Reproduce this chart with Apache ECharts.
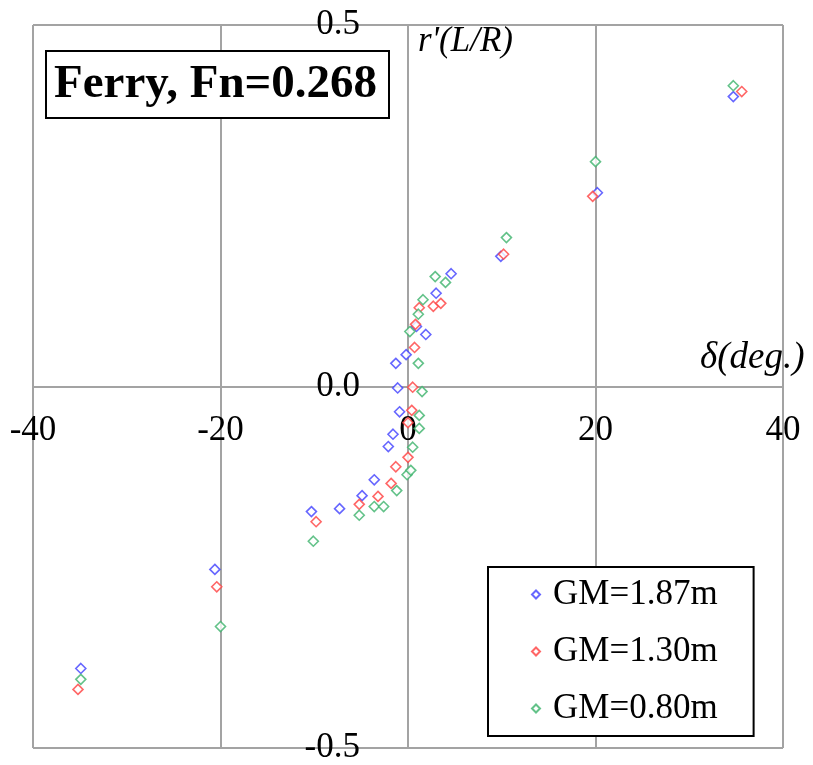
<!DOCTYPE html>
<html>
<head>
<meta charset="utf-8">
<title>Ferry, Fn=0.268</title>
<script src="https://cdn.jsdelivr.net/npm/echarts@6/dist/echarts.min.js"></script>
<style>
    html, body {
        margin: 0;
        padding: 0;
        background: #fff;
    }
    #chart {
        width: 813px;
        height: 765px;
    }
</style>
</head>
<body>
<div id="chart"></div>
<script>
// rudder angle δ (deg.) vs non-dimensional yaw rate r'(L/R), one list per GM
const gm187 = [
    [-34.9, -0.390], [-20.6, -0.253], [-10.3, -0.173], [-7.3, -0.169],
    [-4.9, -0.151], [-3.6, -0.129], [-2.1, -0.083], [-1.6, -0.066],
    [-0.9, -0.035], [-1.1, -0.002], [-1.3, 0.032], [-0.2, 0.044],
    [1.9, 0.072], [0.9, 0.083], [3.0, 0.129], [4.6, 0.156],
    [9.9, 0.180], [20.2, 0.268], [34.7, 0.401],
]
const gm130 = [
    [-35.2, -0.419], [-20.4, -0.277], [-9.8, -0.187], [-5.2, -0.163],
    [-3.2, -0.152], [-1.8, -0.134], [-1.3, -0.111], [0.0, -0.098],
    [0.0, -0.050], [0.4, -0.033], [0.5, -0.001], [0.7, 0.054],
    [0.8, 0.086], [1.2, 0.109], [2.7, 0.111], [3.5, 0.115],
    [10.2, 0.183], [19.7, 0.263], [35.6, 0.408],
]
const gm080 = [
    [-34.9, -0.405], [-20.0, -0.332], [-10.1, -0.214], [-5.2, -0.178],
    [-3.6, -0.166], [-2.6, -0.166], [-1.2, -0.144], [-0.1, -0.122],
    [0.3, -0.116], [0.5, -0.084], [1.2, -0.058], [1.2, -0.040],
    [1.5, -0.007], [1.1, 0.032], [0.2, 0.076], [1.1, 0.100],
    [1.6, 0.120], [2.9, 0.152], [4.0, 0.144], [10.5, 0.206],
    [20.0, 0.311], [34.7, 0.416],
]
const seriesNames = ['GM=1.87m', 'GM=1.30m', 'GM=0.80m']
const titleText = 'Ferry, Fn=0.268'
const xName = 'δ(deg.)'
const yName = "r'(L/R)"

const font = '"Liberation Serif", "DejaVu Serif", serif'
const colors = {
    grid: '#a3a3a3',
    text: '#000',
    blue: '#4040ff',
    red: '#ff4040',
    green: '#3cb36c',
}

// grid box; the axes cross in its middle (x = 0, y = 0)
const gridBox = { left: 33, right: 30, top: 25, bottom: 17 }
const plotW = 813 - gridBox.left - gridBox.right
const plotH = 765 - gridBox.top - gridBox.bottom

function scatterSeries(name, data, color) {
    return {
        name,
        type: 'scatter',
        data,
        symbol: 'diamond',
        symbolSize: 10,
        itemStyle: { color: '#fff', borderColor: color, borderWidth: 1.6 },
    }
}

function buildOption() {
    const c = colors
    return {
        animation: false,
        backgroundColor: '#fff',
        textStyle: { fontFamily: font },
        grid: { ...gridBox, outerBoundsMode: 'none' },
        title: {
            text: titleText,
            left: 46,
            top: 52,
            padding: [10, 12, 10, 8],
            borderWidth: 2,
            borderColor: '#000',
            backgroundColor: '#fff',
            textStyle: { fontFamily: font, fontSize: 47, fontWeight: 'bold', color: c.text, lineHeight: 45 },
        },
        legend: {
            orient: 'vertical',
            left: 488,
            top: 567,
            padding: [10, 36, 10, 43],
            itemGap: 22,
            itemWidth: 8,
            itemHeight: 8,
            borderWidth: 2,
            borderColor: '#000',
            backgroundColor: '#fff',
            data: seriesNames,
            textStyle: { fontFamily: font, fontSize: 35, color: c.text, lineHeight: 35, padding: [0, 0, 0, 8] },
        },
        graphic: [
            {
                type: 'text',
                left: 418,
                top: 24,
                style: { text: yName, font: 'italic 35px ' + font, fill: c.text },
            },
            {
                type: 'text',
                left: 700,
                top: 340,
                style: { text: xName, font: 'italic 37px ' + font, fill: c.text },
            },
        ],
        xAxis: {
            type: 'value',
            min: -40,
            max: 40,
            interval: 20,
            position: 'bottom',
            offset: -plotH / 2,
            axisLine: { onZero: false, lineStyle: { color: c.grid, width: 2 } },
            axisTick: { show: false },
            axisLabel: { color: c.text, fontSize: 35, fontFamily: font, margin: 27 },
            splitLine: { show: true, lineStyle: { color: c.grid, width: 2 } },
        },
        yAxis: {
            type: 'value',
            min: -0.5,
            max: 0.5,
            interval: 0.5,
            position: 'left',
            offset: -plotW / 2,
            axisLine: { onZero: false, lineStyle: { color: c.grid, width: 2 } },
            axisTick: { show: false },
            axisLabel: {
                color: c.text,
                fontSize: 35,
                fontFamily: font,
                margin: 48,
                formatter: (v) => v.toFixed(1),
            },
            splitLine: { show: true, lineStyle: { color: c.grid, width: 2 } },
        },
        series: [
            scatterSeries(seriesNames[0], gm187, c.blue),
            scatterSeries(seriesNames[1], gm130, c.red),
            scatterSeries(seriesNames[2], gm080, c.green),
        ],
    }
}

const chart = echarts.init(document.getElementById('chart'))
chart.setOption(buildOption())
</script>
</body>
</html>
